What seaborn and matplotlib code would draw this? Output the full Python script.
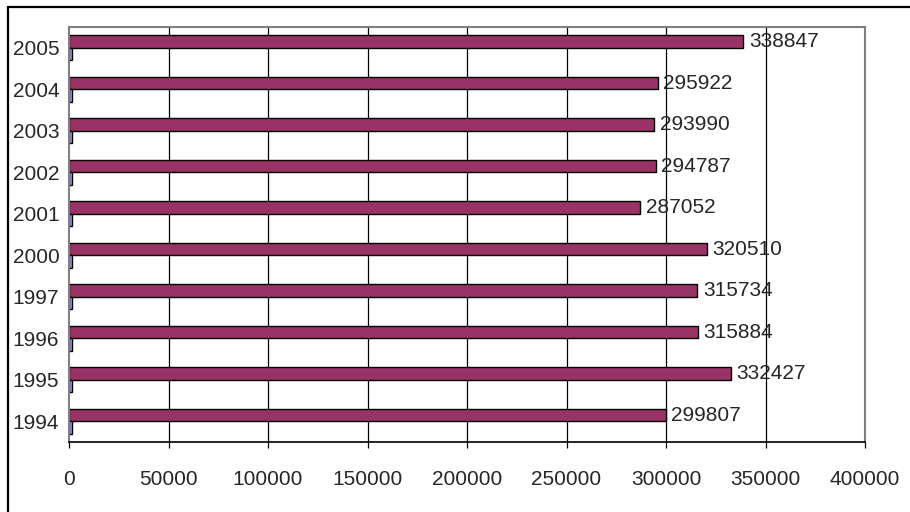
import matplotlib.pyplot as plt
import numpy as np
import pandas as pd
import seaborn as sns
from matplotlib.patches import Rectangle

# values, top row first
years = ['2005', '2004', '2003', '2002', '2001', '2000', '1997', '1996', '1995', '1994']
main_values = [338847, 295922, 293990, 294787, 287052, 320510, 315734, 315884, 332427, 299807]
small_values = [1500, 1500, 1500, 1500, 1500, 1500, 1500, 1500, 1500, 1500]  # tiny blue bars, estimated
x_ticks = [0, 50000, 100000, 150000, 200000, 250000, 300000, 350000, 400000]

sns.set_style('white')
plt.rcParams['font.family'] = ['Liberation Sans', 'DejaVu Sans']

df = pd.DataFrame({
    'year': years * 2,
    'value': main_values + small_values,
    'series': ['main'] * len(years) + ['small'] * len(years),
})

fig = plt.figure(figsize=(9.1, 5.12), dpi=100)
ax = fig.add_axes([69 / 910, 70 / 512, 796 / 910, 415 / 512])

sns.barplot(data=df, x='value', y='year', hue='series', order=years, hue_order=['main', 'small'],
            palette={'main': '#993366', 'small': '#9999ff'}, saturation=1, width=0.6, gap=0,
            edgecolor='black', linewidth=1, orient='h', legend=False, ax=ax)

ax.bar_label(ax.containers[0], padding=4, fontsize=15)

# vertical grid lines, black like the original
for xv in x_ticks[1:-1]:
    ax.axvline(xv, color='black', lw=0.9, zorder=0)

ax.set_xlim(0, 400000)
ax.set_xticks(x_ticks)
ax.set_xticklabels([str(v) for v in x_ticks])
ax.set_xlabel('')
ax.set_ylabel('')
ax.tick_params(axis='x', direction='out', length=4, width=0.9, color='black', pad=16, labelsize=15)
ax.tick_params(axis='y', length=0, pad=7, labelsize=15)
ax.tick_params(bottom=True)

for side in ['left', 'top', 'right']:
    ax.spines[side].set_color('#808080')
    ax.spines[side].set_linewidth(1.5)
ax.spines['bottom'].set_color('black')
ax.spines['bottom'].set_linewidth(1.2)

# outer chart frame (only top and left edges inside the picture)
fig.add_artist(Rectangle((8 / 910, -0.1), 1.2, 1.1 + (505 - 512) / 512, transform=fig.transFigure,
                         fill=False, edgecolor='black', lw=1.6))

fig.savefig('out.png', dpi=100)
